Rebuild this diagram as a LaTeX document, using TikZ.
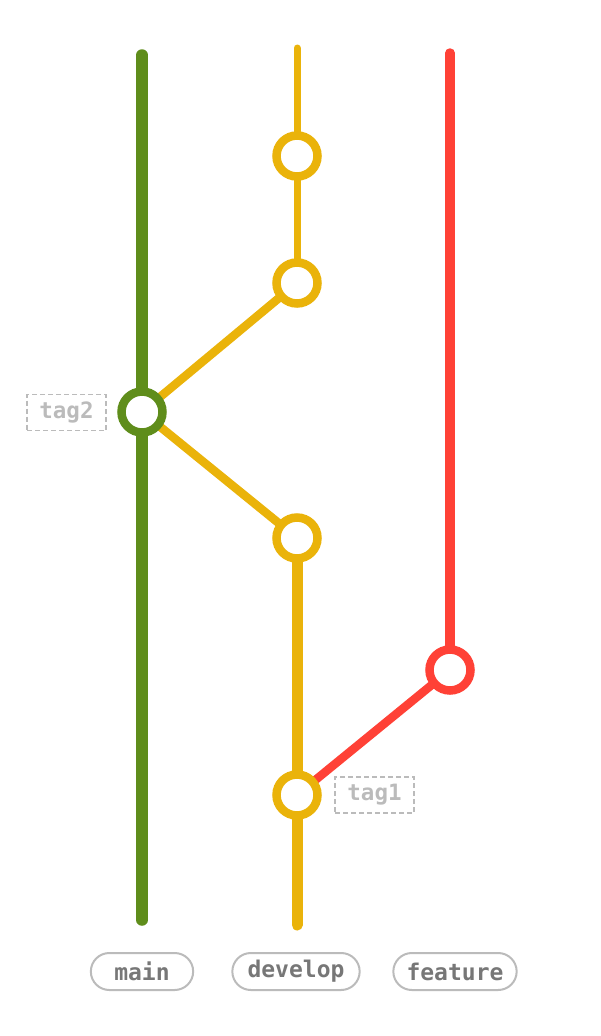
\documentclass[tikz,border=0pt]{standalone}
\usepackage{xcolor}
\usepackage{fontspec}
\setmonofont{DejaVu Sans Mono}
\usepackage{tikz}
\usetikzlibrary{shapes.geometric, shapes.misc, positioning, backgrounds}

\definecolor{maingreen}{HTML}{5F8D1B}
\definecolor{devyellow}{HTML}{EAB30A}
\definecolor{featred}{HTML}{FF4136}
\definecolor{tagGray}{HTML}{BBBBBB}
\definecolor{labelGray}{HTML}{777777}

\begin{document}
\begin{tikzpicture}[x=1pt, y=-1pt]
    % Define styles
    \tikzstyle{commit} = [circle, fill=white, line width=8.5pt, minimum size=41pt, inner sep=0pt]
    \tikzstyle{branch} = [line cap=round]
    \tikzstyle{tagbox} = [rectangle, draw=tagGray, dash pattern=on 5pt off 3pt, line width=1.6pt, minimum width=79pt, minimum height=36pt, font=\ttfamily\bfseries\fontsize{22.5}{22.5}\selectfont, text=tagGray]
    \tikzstyle{branchlabel} = [rounded rectangle, draw=tagGray, line width=2pt, minimum height=37pt, font=\ttfamily\bfseries\fontsize{23}{23}\selectfont, text=labelGray]

    \useasboundingbox (0,0) rectangle (600,1036);

    % Branch ends
    \coordinate (mtop) at (142,55);
    \coordinate (mbot) at (142,920);
    \coordinate (dtop) at (297,48);
    \coordinate (dbot) at (297,925);
    \coordinate (ftop) at (450,53);

    % Commits
    \node[commit, draw=devyellow] (d1) at (297,156) {};
    \node[commit, draw=devyellow] (d2) at (297,283) {};
    \node[commit, draw=maingreen] (m1) at (142,412) {};
    \node[commit, draw=devyellow] (d3) at (297,538) {};
    \node[commit, draw=featred] (f1) at (450,670) {};
    \node[commit, draw=devyellow] (d4) at (297,795) {};

    % Branch lines
    \begin{scope}[on background layer]
        \draw[branch, maingreen, line width=11.5pt] (mtop) -- (m1.center) -- (mbot);
        \draw[branch, devyellow, line width=7pt] (dtop) -- (d1.center) -- (d2.center);
        \draw[branch, devyellow, line width=8.5pt] (d2.center) -- (m1.center) -- (d3.center);
        \draw[branch, devyellow, line width=11pt] (d3.center) -- (d4.center) -- (dbot);
        \draw[branch, featred, line width=9.5pt] (ftop) -- (f1.center);
        \draw[branch, featred, line width=8.5pt] (f1.center) -- (d4.center);
    \end{scope}

    % Tags
    \node[tagbox] (tag2) at (66.5,412.5) {tag2};
    \node[tagbox] (tag1) at (374.5,795) {tag1};

    % Branch labels
    \node[branchlabel, minimum width=109pt] (lmain) at (142,971.5) {main};
    \node[branchlabel, minimum width=134pt] (ldev) at (296,971.5) {develop};
    \node[branchlabel, minimum width=130pt] (lfeat) at (455,971.5) {feature};
\end{tikzpicture}
\end{document}
